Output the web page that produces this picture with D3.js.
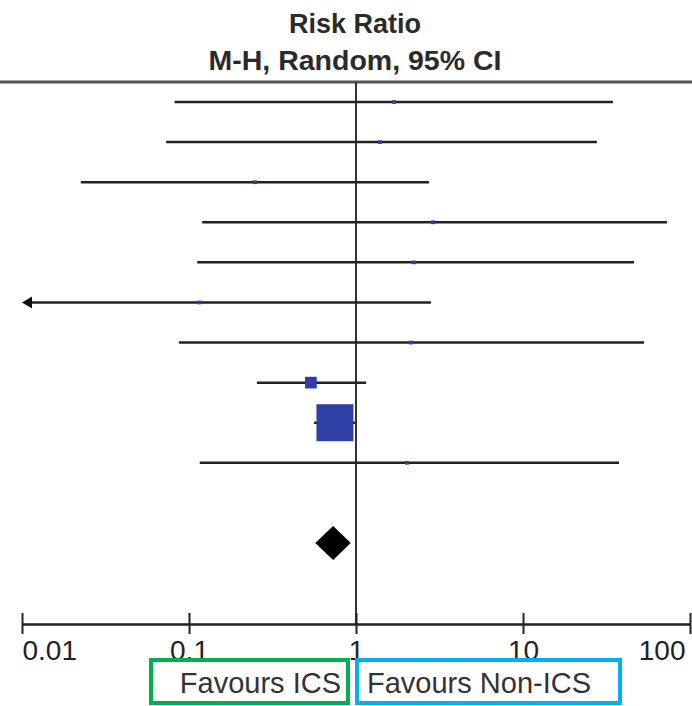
<!DOCTYPE html>
<html>
<head>
<meta charset="utf-8">
<script src="https://cdn.jsdelivr.net/npm/d3@7"></script>
<style>
  html, body { margin: 0; padding: 0; background: #fff; }
  svg { display: block; }
</style>
</head>
<body>
<div id="chart"></div>
<script>
// study rows, top to bottom (index 10 left empty before the pooled estimate)
const rowIndex = [0, 1, 2, 3, 4, 5, 6, 7, 8, 9];
const riskRatio = [1.69, 1.39, 0.248, 2.89, 2.22, 0.115, 2.13, 0.537, 0.748, 2.02];
const ciLower = [0.082, 0.073, 0.0225, 0.12, 0.112, 0.001, 0.087, 0.255, 0.561, 0.116];
const ciUpper = [34.6, 27.7, 2.74, 72.8, 46.2, 2.81, 53.1, 1.15, 0.99, 37.6];
const weights = [0.8, 0.8, 0.8, 0.8, 0.8, 0.8, 0.8, 8, 80, 0.8];

const pooledRow = 11;
const pooled = { est: 0.73, lo: 0.57, hi: 0.93 };

const tickValues = [0.01, 0.1, 1, 10, 100];
const tickLabels = ['0.01', '0.1', '1', '10', '100'];

const width = 692, height = 706;
const axisY = 624;

const svg = d3.select('#chart').append('svg')
  .attr('width', width)
  .attr('height', height);

const x = d3.scaleLog().domain([0.01, 100]).range([22, 690]);
const y = d3.scaleLinear().domain([0, 11]).range([102, 543]);
const side = d3.scaleSqrt().domain([0, 80]).range([0, 37]);

// header
const titleFont = '"Liberation Sans Narrow", "Arial Narrow", "Liberation Sans", Arial, sans-serif';
svg.append('text')
  .attr('x', 355).attr('y', 33)
  .attr('text-anchor', 'middle')
  .style('font-family', titleFont)
  .style('font-weight', 'bold')
  .style('font-size', '27px')
  .style('fill', '#2a2a2a')
  .text('Risk Ratio');

svg.append('text')
  .attr('x', 355).attr('y', 70)
  .attr('text-anchor', 'middle')
  .style('font-family', titleFont)
  .style('font-weight', 'bold')
  .style('font-size', '28.5px')
  .style('fill', '#2a2a2a')
  .text('M-H, Random, 95% CI');

svg.append('line')
  .attr('x1', 0).attr('x2', width)
  .attr('y1', 82).attr('y2', 82)
  .attr('stroke', '#555')
  .attr('stroke-width', 3);

// line of no effect
svg.append('line')
  .attr('x1', x(1)).attr('x2', x(1))
  .attr('y1', 82).attr('y2', axisY)
  .attr('stroke', '#333')
  .attr('stroke-width', 2);

// confidence intervals
const rows = rowIndex.map((r, i) => ({
  r, est: riskRatio[i], lo: ciLower[i], hi: ciUpper[i], w: weights[i]
}));

const g = svg.append('g');

g.selectAll('.ci')
  .data(rows)
  .enter().append('line')
  .attr('class', 'ci')
  .attr('x1', d => Math.max(x(d.lo), x(0.01) + 6))
  .attr('x2', d => x(d.hi))
  .attr('y1', d => y(d.r))
  .attr('y2', d => y(d.r))
  .attr('stroke', '#222')
  .attr('stroke-width', 2.5);

// arrow for CIs running past the axis
g.selectAll('.arrow')
  .data(rows.filter(d => d.lo < 0.01))
  .enter().append('path')
  .attr('class', 'arrow')
  .attr('d', d => {
    const x0 = x(0.01), y0 = y(d.r);
    return `M${x0},${y0}L${x0 + 10},${y0 - 6}L${x0 + 10},${y0 + 6}Z`;
  })
  .attr('fill', '#111');

g.selectAll('.box')
  .data(rows)
  .enter().append('rect')
  .attr('class', 'box')
  .attr('x', d => x(d.est) - Math.max(side(d.w), 4) / 2)
  .attr('y', d => y(d.r) - Math.max(side(d.w), 3) / 2)
  .attr('width', d => Math.max(side(d.w), 4))
  .attr('height', d => Math.max(side(d.w), 3))
  .attr('fill', '#2e3fa6');

// pooled diamond
svg.append('path')
  .attr('d', () => {
    const yc = y(pooledRow);
    return `M${x(pooled.lo)},${yc}L${x(pooled.est)},${yc - 17}L${x(pooled.hi)},${yc}L${x(pooled.est)},${yc + 17}Z`;
  })
  .attr('fill', '#000');

// axis
const axis = d3.axisBottom(x)
  .tickValues(tickValues)
  .tickFormat((d, i) => tickLabels[i])
  .tickSizeOuter(0)
  .tickSizeInner(10)
  .tickPadding(4);

const ax = svg.append('g')
  .attr('transform', `translate(0,${axisY})`)
  .call(axis);

ax.select('.domain').attr('stroke', '#222').attr('stroke-width', 2.5);
ax.selectAll('.tick line')
  .attr('y1', -11)
  .attr('stroke', '#222')
  .attr('stroke-width', 2);
ax.selectAll('.tick text')
  .attr('dy', null)
  .attr('y', 36)
  .style('font-family', '"Liberation Sans", Arial, sans-serif')
  .style('font-size', '28px')
  .style('fill', '#222')
  .attr('text-anchor', (d, i) => i === 0 ? 'start' : i === tickValues.length - 1 ? 'end' : 'middle')
  .attr('dx', (d, i) => i === tickValues.length - 1 ? -5 : 0);

// favours labels
const favours = [
  { label: 'Favours ICS', x0: 151, x1: 348, color: '#00b050' },
  { label: 'Favours Non-ICS', x0: 357, x1: 620, color: '#00b0f0' }
];

svg.selectAll('.fav-box')
  .data(favours)
  .enter().append('rect')
  .attr('class', 'fav-box')
  .attr('x', d => d.x0)
  .attr('y', 660)
  .attr('width', d => d.x1 - d.x0)
  .attr('height', 43)
  .attr('fill', 'none')
  .attr('stroke', d => d.color)
  .attr('stroke-width', 4);

svg.selectAll('.fav-text')
  .data(favours)
  .enter().append('text')
  .attr('class', 'fav-text')
  .attr('x', (d, i) => i === 0 ? d.x1 - 7 : d.x0 + 10)
  .attr('y', 693)
  .attr('text-anchor', (d, i) => i === 0 ? 'end' : 'start')
  .style('font-family', '"Liberation Sans", Arial, sans-serif')
  .style('font-size', '29px')
  .style('fill', '#333')
  .text(d => d.label);
</script>
</body>
</html>
